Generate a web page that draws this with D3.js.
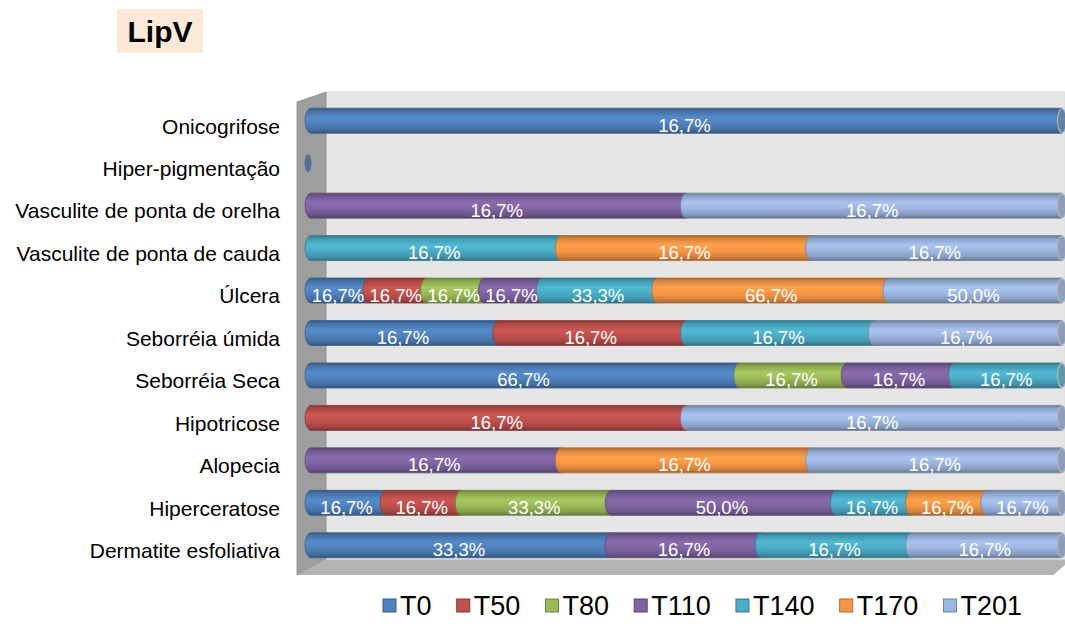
<!DOCTYPE html>
<html>
<head>
<meta charset="utf-8">
<script src="https://cdn.jsdelivr.net/npm/d3@7"></script>
<style>
  html, body { margin: 0; padding: 0; background: #ffffff; }
  svg { display: block; font-family: Arial, "Liberation Sans", sans-serif; }
</style>
</head>
<body>
<svg id="chart" width="1065" height="626"></svg>
<script>
// Categories, top to bottom
const categories = [
  "Onicogrifose",
  "Hiper-pigmentação",
  "Vasculite de ponta de orelha",
  "Vasculite de ponta de cauda",
  "Úlcera",
  "Seborréia úmida",
  "Seborréia Seca",
  "Hipotricose",
  "Alopecia",
  "Hiperceratose",
  "Dermatite esfoliativa"
];

// Series names (legend order)
const seriesNames = ["T0", "T50", "T80", "T110", "T140", "T170", "T201"];
const seriesColors = ["#4f81bd", "#c0504d", "#9bbb59", "#8064a2", "#4bacc6", "#f79646", "#9db6e0"];

// Percentages per series, one value per category (0 = absent)
const T0   = [16.7, 0, 0,    0,    16.7, 16.7, 66.7, 0,    0,    16.7, 33.3];
const T50  = [0,    0, 0,    0,    16.7, 16.7, 0,    16.7, 0,    16.7, 0];
const T80  = [0,    0, 0,    0,    16.7, 0,    16.7, 0,    0,    33.3, 0];
const T110 = [0,    0, 16.7, 0,    16.7, 0,    16.7, 0,    16.7, 50.0, 16.7];
const T140 = [0,    0, 0,    16.7, 33.3, 16.7, 16.7, 0,    0,    16.7, 16.7];
const T170 = [0,    0, 0,    16.7, 66.7, 0,    0,    0,    16.7, 16.7, 0];
const T201 = [0,    0, 16.7, 16.7, 50.0, 16.7, 0,    16.7, 16.7, 16.7, 16.7];

const seriesValues = [T0, T50, T80, T110, T140, T170, T201];
const chartTitle = "LipV";

const svg = d3.select("#chart");
const defs = svg.append("defs");

// Frame of the 3D plot area
const wallLeft = 297, wallBack = 326, wallTop = 92, floorBack = 559, floorFront = 575, rightEdge = 1065;
const barLeft = 311, barRight = 1062, barH = 25;
const capRx = 6;

// Scales
const y = d3.scaleBand().domain(categories).range([99.5, 566.5]).paddingInner(0.41).paddingOuter(0.205);
const x = d3.scaleLinear().domain([0, 1]).range([barLeft, barRight]);

// Title
svg.append("rect").attr("x", 117).attr("y", 9).attr("width", 86).attr("height", 44).attr("fill", "#fde9d9");
svg.append("text").attr("x", 160).attr("y", 42).attr("text-anchor", "middle")
  .attr("font-size", 30).attr("font-weight", "bold").attr("fill", "#000").text(chartTitle);

// Back wall
svg.append("rect").attr("x", wallBack).attr("y", wallTop)
  .attr("width", rightEdge - wallBack).attr("height", floorBack - wallTop)
  .attr("fill", "#e6e6e6").attr("stroke", "#d8d8d8").attr("stroke-width", 0.8);
// Side wall
svg.append("path")
  .attr("d", `M${wallLeft},${wallTop + 10} L${wallBack},${wallTop} L${wallBack},${floorBack} L${wallLeft},${floorFront} Z`)
  .attr("fill", "#9e9e9e").attr("stroke", "#8a8a8a").attr("stroke-width", 0.8);
// Floor
svg.append("path")
  .attr("d", `M${wallLeft},${floorFront} L${wallBack},${floorBack} L${rightEdge},${floorBack} L${rightEdge},${floorFront - 10} L${rightEdge - 12},${floorFront} Z`)
  .attr("fill", "#b3b3b3");
svg.append("line").attr("x1", wallBack).attr("x2", rightEdge).attr("y1", floorBack).attr("y2", floorBack)
  .attr("stroke", "#f2f2f2").attr("stroke-width", 1);

// Cylinder shading gradients
seriesColors.forEach((c, i) => {
  const base = d3.color(c);
  const g = defs.append("linearGradient").attr("id", "cyl" + i)
    .attr("x1", 0).attr("y1", 0).attr("x2", 0).attr("y2", 1);
  [[0, base.darker(1.1)], [0.12, base.darker(0.35)], [0.38, base.brighter(0.2)],
   [0.62, base], [0.86, base.darker(0.45)], [1, base.darker(1.2)]]
    .forEach(([o, col]) => g.append("stop").attr("offset", o).attr("stop-color", col.formatHex()));
});

// Category labels
svg.append("g").selectAll("text").data(categories).join("text")
  .attr("x", 280).attr("y", d => y(d) + y.bandwidth() / 2 + 5.5)
  .attr("dy", "0.35em").attr("text-anchor", "end")
  .attr("font-size", 21).attr("fill", "#000").text(d => d);

const fmt = v => d3.format(".1f")(v).replace(".", ",") + "%";

// Stacked (100%) cylinders per category
categories.forEach((cat, ci) => {
  const total = d3.sum(seriesValues, s => s[ci]);
  const cy = y(cat) + y.bandwidth() / 2;
  const top = cy - barH / 2, bot = cy + barH / 2;
  const g = svg.append("g");
  if (total === 0) {
    g.append("ellipse").attr("cx", x(0) - 3).attr("cy", cy).attr("rx", 4).attr("ry", barH / 2 - 3)
      .attr("fill", "#5a6e8f").attr("stroke", "#8fa3c4").attr("stroke-width", 1);
    return;
  }
  let acc = 0;
  const segs = [];
  seriesValues.forEach((s, si) => {
    const v = s[ci];
    if (!v) return;
    segs.push({ si, v, x0: x(acc / total), x1: x((acc + v) / total) });
    acc += v;
  });
  segs.forEach(sg => {
    const col = d3.color(seriesColors[sg.si]);
    g.append("path")
      .attr("d", `M${sg.x0},${top} L${sg.x1},${top} L${sg.x1},${bot} L${sg.x0},${bot} A${capRx},${barH / 2} 0 0 1 ${sg.x0},${top} Z`)
      .attr("fill", `url(#cyl${sg.si})`)
      .attr("stroke", col.darker(0.9).formatHex()).attr("stroke-width", 0.8);
  });
  const last = segs[segs.length - 1];
  const endCol = d3.interpolateRgb(seriesColors[last.si], "#7f7f7f")(0.45);
  g.append("ellipse").attr("cx", last.x1).attr("cy", cy).attr("rx", 4.5).attr("ry", barH / 2 - 0.5)
    .attr("fill", endCol).attr("stroke", "#aab4c4").attr("stroke-width", 1.2);
  segs.forEach(sg => {
    g.append("text").attr("x", (sg.x0 + sg.x1) / 2 - 2).attr("y", cy + 4.5).attr("dy", "0.35em")
      .attr("text-anchor", "middle").attr("font-size", 18.5).attr("fill", "#ffffff")
      .text(fmt(sg.v));
  });
});

// Legend, spread across its row
const legendFont = 27, sq = 13, sqGap = 4;
const legendX0 = 383, legendX1 = 1022, legendBase = 615;
const legend = svg.append("g").attr("transform", `translate(0,${legendBase})`);
const items = legend.selectAll("g").data(seriesNames).join("g");
items.append("rect").attr("width", sq).attr("height", sq).attr("y", -16)
  .attr("fill", (d, i) => seriesColors[i])
  .attr("stroke", (d, i) => d3.color(seriesColors[i]).darker(1).formatHex()).attr("stroke-width", 1);
items.append("text").attr("x", sq + sqGap).attr("y", 0).attr("font-size", legendFont).attr("fill", "#000").text(d => d);
const widths = [];
items.each(function () { widths.push(this.getBBox().width); });
const itemGap = (legendX1 - legendX0 - d3.sum(widths)) / (widths.length - 1);
let lx = legendX0;
items.each(function (d, i) {
  d3.select(this).attr("transform", `translate(${lx},0)`);
  lx += widths[i] + itemGap;
});
</script>
</body>
</html>
